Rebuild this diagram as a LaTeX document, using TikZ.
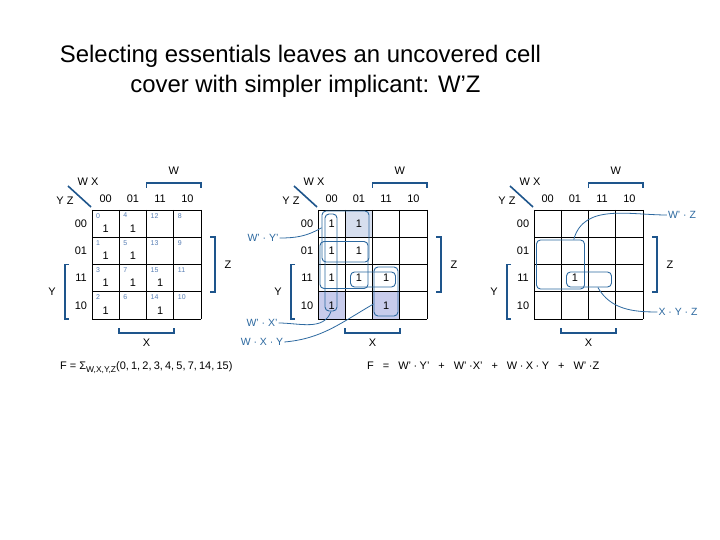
\documentclass[tikz,border=0pt]{standalone}
\usepackage{fontspec}
\setmainfont{Liberation Sans}
\usetikzlibrary{positioning}
\definecolor{kblue}{RGB}{45,105,160}
\definecolor{kdark}{RGB}{30,85,140}
\definecolor{kidx}{RGB}{85,125,180}
\definecolor{kfill}{RGB}{200,204,236}
\definecolor{kpale}{RGB}{214,222,238}
\def\cellsz{27.25}
\newcommand{\bsp}{\hspace{9bp}}
\newcommand{\tsp}{\hspace{2.5bp}}
\newcommand{\csp}{,\hspace{2.2bp}}
\tikzset{
  gridline/.style={draw=black, line width=0.8bp},
  hdr/.style={font=\fontsize{11}{11}\selectfont, inner sep=0pt},
  bracket/.style={draw=kdark, line width=1.6bp},
  one/.style={font=\fontsize{11}{11}\selectfont, inner sep=0pt},
  idx/.style={font=\fontsize{7}{7}\selectfont, text=kidx, inner sep=0pt, anchor=north west},
  implicant/.style={draw=kblue, line width=0.9bp, rounded corners=4bp, inner sep=0pt},
  leader/.style={draw=kblue, line width=0.8bp},
  term/.style={font=\fontsize{10.5}{10.5}\selectfont, text=kblue, inner sep=1pt},
  formula/.style={font=\fontsize{11}{11}\selectfont, inner sep=0pt, anchor=base west}
}
% grid, headings and brackets of one map
\newcommand{\kframe}[1]{%
  \foreach \i in {0,...,4} {
    \draw[gridline] (\i*\cellsz,0) -- (\i*\cellsz,4*\cellsz);
    \draw[gridline] (0,\i*\cellsz) -- (4*\cellsz,\i*\cellsz);
  }
  \foreach \lab [count=\i from 0] in {00,01,11,10} {
    \node[hdr] (#1col\i) at ({(\i+0.5)*\cellsz},-11) {\lab};
    \node[hdr] (#1row\i) at (-11,{(\i+0.5)*\cellsz}) {\lab};
  }
  \draw[bracket] (-24,-24) -- (-1,-3);
  \node[hdr] (#1wx) at (-4,-28) {W X};
  \node[hdr] (#1yz) at (-27,-9) {Y Z};
  \draw[bracket] (2*\cellsz,-22) -- (2*\cellsz,-27) -- (4*\cellsz,-27) -- (4*\cellsz,-22);
  \node[hdr] (#1W) at (3*\cellsz,-39) {W};
  \draw[bracket] (4*\cellsz+9,\cellsz) -- (4*\cellsz+14,\cellsz) -- (4*\cellsz+14,3*\cellsz) -- (4*\cellsz+9,3*\cellsz);
  \node[hdr] (#1Z) at (4*\cellsz+27,2*\cellsz) {Z};
  \draw[bracket] (-23,2*\cellsz) -- (-27,2*\cellsz) -- (-27,4*\cellsz) -- (-23,4*\cellsz);
  \node[hdr] (#1Y) at (-40,3*\cellsz) {Y};
  \draw[bracket] (\cellsz,4*\cellsz+9) -- (\cellsz,4*\cellsz+14) -- (3*\cellsz,4*\cellsz+14) -- (3*\cellsz,4*\cellsz+9);
  \node[hdr] (#1X) at (2*\cellsz,4*\cellsz+24) {X};
}
\begin{document}
\begin{tikzpicture}[x=1bp, y=-1bp]
  \fill[white] (0,0) rectangle (720,540);
  \useasboundingbox (0,0) rectangle (720,540);

  \node[font=\fontsize{24}{24}\selectfont, inner sep=0pt, anchor=base] (title) at (300.5,63)
    {Selecting essentials leaves an uncovered cell};
  \node[font=\fontsize{24}{24}\selectfont, inner sep=0pt, anchor=base] (subtitle) at (305.5,93)
    {cover with simpler implicant: W’Z};

  % map 1: minterm numbers
  \begin{scope}[shift={(92,210)}]
    \kframe{a}
    \foreach \c/\r/\m in {0/0/0,1/0/4,2/0/12,3/0/8,0/1/1,1/1/5,2/1/13,3/1/9,
                          0/2/3,1/2/7,2/2/15,3/2/11,0/3/2,1/3/6,2/3/14,3/3/10}
      \node[idx] (ai\m) at ({\c*\cellsz+4},{\r*\cellsz+3}) {\m};
    \foreach \c/\r in {0/0,1/0,0/1,1/1,0/2,1/2,2/2,0/3,2/3}
      \node[one] (ao\c\r) at ({(\c+0.5)*\cellsz},{(\r+0.5)*\cellsz+5}) {1};
  \end{scope}

  % map 2: all prime implicants
  \begin{scope}[shift={(318,210)}]
    \fill[kpale] (\cellsz,0) rectangle (2*\cellsz,\cellsz);
    \fill[kfill] (0,3*\cellsz) rectangle (\cellsz,4*\cellsz);
    \fill[kfill] (2*\cellsz,3*\cellsz) rectangle (3*\cellsz,4*\cellsz);
    \kframe{b}
    \foreach \c/\r in {0/0,1/0,0/1,1/1,0/2,1/2,2/2,0/3,2/3}
      \node[one] (bo\c\r) at ({(\c+0.5)*\cellsz},{(\r+0.5)*\cellsz}) {1};
    \node[implicant, minimum width=47bp, minimum height=51bp] (wy) at (27.5,26.5) {};
    \node[implicant, minimum width=48bp, minimum height=47bp] (wz) at (26,55) {};
    \node[implicant, minimum width=12bp, minimum height=97bp] (wx) at (13,52.5) {};
    \node[implicant, minimum width=45bp, minimum height=15bp] (xyz) at (55,69.5) {};
    \node[implicant, minimum width=24bp, minimum height=49bp] (wxy) at (68,81.5) {};
  \end{scope}

  % map 3: the cell left after the essentials
  \begin{scope}[shift={(534,210)}]
    \kframe{c}
    \node[one] (co12) at ({1.5*\cellsz},{2.5*\cellsz}) {1};
    \node[implicant, minimum width=48bp, minimum height=49bp] (wz3) at (26.5,54.5) {};
    \node[implicant, minimum width=45bp, minimum height=15bp] (xyz3) at (55,69.5) {};
  \end{scope}

  \node[term] (wylab) at (263,238) {W’ · Y’};
  \node[term] (wxlab) at (262,323) {W’ · X’};
  \node[term] (wxylab) at (262,342) {W · X · Y};
  \node[term] (wzlab) at (682,215) {W’ · Z};
  \node[term] (xyzlab) at (678,312) {X · Y · Z};

  \draw[leader] (wylab.east) to[out=0, in=-150] (wy.160);
  \draw[leader] (wxlab.east) to[out=0, in=-110] (wx.south);
  \draw[leader] (wxylab.east) to[out=5, in=-150] (wxy.-135);
  \draw[leader] (wz3.62) to[out=75, in=180] (wzlab.west);
  \draw[leader] (xyz3.-42) to[out=-60, in=180] (xyzlab.west);

  \node[formula] (sumf) at (60,369)
    {F = Σ\raisebox{-3bp}{\fontsize{8.5}{8.5}\selectfont W,X,Y,Z}(0\csp 1\csp 2\csp 3\csp 4\csp 5\csp 7\csp 14\csp 15)};
  \node[formula] (sopf) at (367,369)
    {F\bsp=\bsp W’\tsp·\tsp Y’\bsp+\bsp W’\tsp·X’\bsp+\bsp W\tsp·\tsp X\tsp·\tsp Y\bsp+\bsp W’\tsp·Z};
\end{tikzpicture}
\end{document}
